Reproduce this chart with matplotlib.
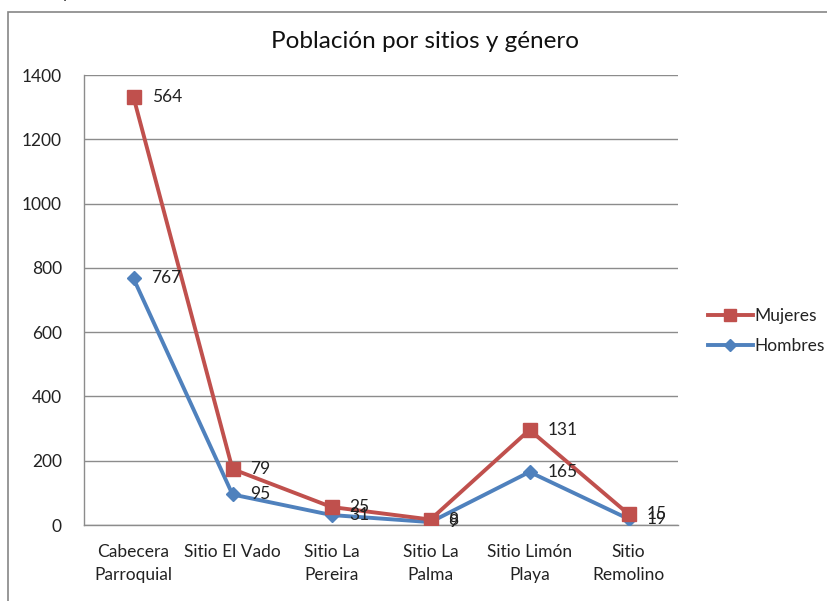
import matplotlib
matplotlib.use("Agg")
import matplotlib.pyplot as plt
from matplotlib.patches import Rectangle
from matplotlib.lines import Line2D

categories = ["Cabecera\nParroquial", "Sitio El Vado", "Sitio La\nPereira",
              "Sitio La\nPalma", "Sitio Limón\nPlaya", "Sitio\nRemolino"]
hombres = [767, 95, 31, 9, 165, 19]
mujeres = [564, 79, 25, 8, 131, 15]
yticks = [0, 200, 400, 600, 800, 1000, 1200, 1400]

plt.rcParams['font.family'] = ['Lato', 'DejaVu Sans']

W, H = 827, 601
fig = plt.figure(figsize=(W / 100, H / 100), dpi=100)

# outer chart border (cropped at right and bottom)
fig.patches.append(Rectangle((8 / W, -0.05), 1.0, 1 - 12 / H + 0.05,
                             transform=fig.transFigure, fill=False,
                             edgecolor='#868686', linewidth=1.2))
fig.text(62 / W, 1 + 2 / H, "y", fontsize=12, ha='left', va='baseline',
         color='#222222')

ax = fig.add_axes([84 / W, 1 - 525 / H, (678 - 84) / W, (525 - 75) / H])
x = list(range(len(categories)))
stacked = [h + m for h, m in zip(hombres, mujeres)]

red = '#C0504D'
blue = '#4F81BD'
ax.plot(x, hombres, color=blue, lw=2.8, marker='D', markersize=7.5,
        zorder=3, label='Hombres')
ax.plot(x, stacked, color=red, lw=2.8, marker='s', markersize=9.5,
        zorder=4, label='Mujeres')

for xi, v in zip(x, hombres):
    ax.annotate(str(v), (xi, v), xytext=(13, 0), textcoords='offset points',
                va='center', ha='left', fontsize=12.5, color='#222222', zorder=6)
for xi, v, s in zip(x, mujeres, stacked):
    ax.annotate(str(v), (xi, s), xytext=(13, 0), textcoords='offset points',
                va='center', ha='left', fontsize=12.5, color='#222222', zorder=6)

ax.set_xlim(-0.5, len(categories) - 0.5)
ax.set_ylim(0, 1400)
ax.set_yticks(yticks)
ax.set_yticklabels([str(t) for t in yticks], fontsize=12.5, color='#222222')
ax.set_xticks(x)
ax.set_xticklabels(categories, fontsize=12.5, color='#222222', linespacing=1.5)
ax.tick_params(axis='both', length=0)
ax.tick_params(axis='y', pad=16)
ax.tick_params(axis='x', pad=14)
ax.grid(axis='y', color='#8c8c8c', lw=1)
ax.set_axisbelow(True)
for s in ['top', 'right']:
    ax.spines[s].set_visible(False)
for s in ['left', 'bottom']:
    ax.spines[s].set_color('#8c8c8c')
    ax.spines[s].set_linewidth(1)

fig.text(425 / W, 1 - 42 / H, "Población por sitios y género", fontsize=17.5,
         ha='center', va='center', color='#111111')

handles = [Line2D([], [], color=red, lw=2.8, marker='s', markersize=8),
           Line2D([], [], color=blue, lw=2.8, marker='D', markersize=6)]
fig.legend(handles, ['Mujeres', 'Hombres'], loc='center left',
           bbox_to_anchor=(692 / W, 1 - 331 / H), frameon=False,
           fontsize=12.5, handlelength=2.6, handletextpad=0.1,
           labelspacing=0.85, labelcolor='#222222')

fig.savefig("out.png", dpi=100)
